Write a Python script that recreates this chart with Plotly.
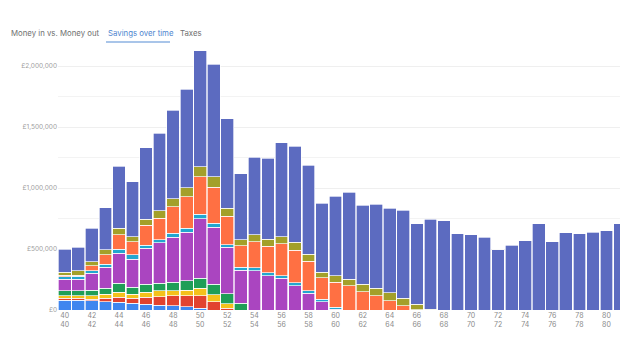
import plotly.graph_objects as go

# Ages shown along the x axis
ages = list(range(40, 82))

# Savings by pot (GBP thousands), stacked bottom to top
pot_blue = [82, 82, 76, 68, 63, 55, 49, 41, 33, 27, 14, 0, 0, 0] + [0] * 28
pot_red = [14, 14, 14, 28, 41, 41, 55, 68, 82, 88, 103, 68, 14, 0] + [0] * 28
pot_yellow = [21, 21, 27, 33, 41, 35, 41, 47, 43, 49, 61, 57, 38, 0] + [0] * 28
pot_green = [39, 39, 47, 49, 74, 55, 66, 63, 69, 76, 82, 85, 82, 55] + [0] * 28
pot_purple = [96, 96, 137, 172, 246, 230, 295, 333, 371, 399, 490, 470, 380, 273,
              322, 281, 260, 199, 137, 68, 8] + [0] * 21
pot_cyan = [21, 23, 21, 25, 35, 35, 23, 22, 30, 30, 37, 30, 19, 22,
            25, 25, 21, 25, 21, 20, 16] + [0] * 21
pot_orange = [10, 12, 41, 76, 117, 107, 164, 180, 220, 261, 306, 295, 235, 175,
              213, 216, 262, 266, 243, 175, 205, 197, 150, 117, 76, 33, 4] + [0] * 15
pot_olive = [26, 33, 33, 41, 52, 43, 53, 60, 64, 72, 82, 87, 66, 49,
             55, 57, 57, 66, 57, 47, 52, 55, 60, 61, 66, 63, 45, 8] + [0] * 14
pot_indigo = [189, 195, 274, 347, 511, 451, 584, 634, 727, 809, 951, 921, 734, 543,
              637, 664, 770, 786, 727, 566, 653, 715, 648, 688, 692, 721, 658, 738,
              732, 625, 617, 598, 492, 530, 568, 707, 560, 634, 625, 639, 648, 707]

series = [
    ("Pot 1", pot_blue, "#3f86ef"),
    ("Pot 2", pot_red, "#e2432f"),
    ("Pot 3", pot_yellow, "#f4c21b"),
    ("Pot 4", pot_green, "#1f9e57"),
    ("Pot 5", pot_purple, "#aa45c0"),
    ("Pot 6", pot_cyan, "#22a6cf"),
    ("Pot 7", pot_orange, "#ff7043"),
    ("Pot 8", pot_olive, "#a3a02a"),
    ("Pot 9", pot_indigo, "#5c6bc0"),
]

# Axis ticks
y_ticks = [0, 500000, 1000000, 1500000, 2000000]
y_tick_text = ["£0", "£500,000", "£1,000,000", "£1,500,000", "£2,000,000"]
x_ticks = list(range(40, 81, 2))
x_tick_text = [f"{a}<br>{a}" for a in x_ticks]

tabs = ["Money in vs. Money out", "Savings over time", "Taxes"]

fig = go.Figure()
for name, vals, color in series:
    fig.add_trace(go.Bar(
        x=ages, y=[v * 1000 for v in vals], name=name,
        marker=dict(color=color, line=dict(color="rgba(255,255,255,0.85)", width=0.8)),
    ))

W, H = 639, 343
L, R, T, B = 58, 19, 49, 33
pw, ph = W - L - R, H - T - B


def px(x):
    return (x - L) / pw


def py(y):
    return (H - B - y) / ph


fig.update_layout(
    width=W, height=H,
    margin=dict(l=L, r=R, t=T, b=B),
    barmode="stack", bargap=0.06,
    showlegend=False,
    plot_bgcolor="white", paper_bgcolor="white",
    font=dict(family="Inter, Roboto, sans-serif", size=7, color="#8a8a8a"),
    xaxis=dict(
        range=[39.5, 81.0], tickvals=x_ticks, ticktext=x_tick_text,
        showgrid=False, zeroline=False, showline=False, ticks="",
        tickfont=dict(size=7, color="#8a8a8a"),
    ),
    yaxis=dict(
        range=[0, 2140000], tickvals=y_ticks, ticktext=y_tick_text,
        showgrid=True, gridcolor="#efefef", gridwidth=1, zeroline=False,
        ticks="", tickfont=dict(size=6.5, color="#a0a0a0"),
        minor=dict(dtick=250000, showgrid=True, gridcolor="#f3f3f3", gridwidth=1),
    ),
)

# Tab row above the chart
tab_x = [10, 107, 179]
tab_colors = ["#707070", "#4f86cf", "#707070"]
for label, x0, c in zip(tabs, tab_x, tab_colors):
    fig.add_annotation(
        text=label, xref="paper", yref="paper", x=px(x0), y=py(33),
        xanchor="left", yanchor="middle", showarrow=False, borderpad=0,
        font=dict(size=7.8, color=c, family="Inter, Roboto, sans-serif"),
    )
fig.add_shape(type="line", xref="paper", yref="paper",
              x0=px(106), x1=px(170), y0=py(42), y1=py(42),
              line=dict(color="#8db2e2", width=1.5))

fig.write_html("out.html")
